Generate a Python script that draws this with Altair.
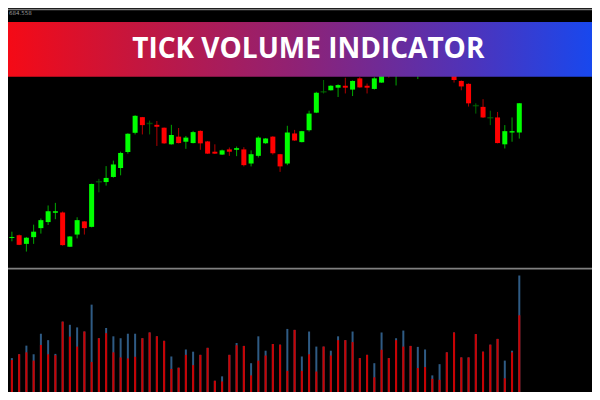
import altair as alt
import pandas as pd

# ---- data (price units, tick volumes) ----
opens = [60.5, 63.3, 54.3, 61.3, 70.7, 77, 86.7, 87, 51.3, 64,
         77.7, 72, 119, 118.7, 124, 133.3, 150, 170, 186.3, 179.7,
         178.3, 175.3, 158, 166, 160.7, 159.3, 172, 161, 150.3, 147.3,
         152.7, 152.3, 152.7, 138, 146, 159, 166, 147.7, 138, 169.3,
         160.3, 172.7, 191, 212.7, 214.3, 217, 219, 215, 226.7, 219,
         215.7, 222.3, 238, 234, 242, 236, 238, 245, 240, 247,
         242, 234, 224, 221, 198.3, 197, 185.7, 186, 158, 170.3, 170.3]
closes = [61.5, 53.3, 60.7, 67, 79, 88.3, 88.3, 53, 62, 79,
          70.7, 116.7, 119, 123, 137, 149, 169, 187.7, 178, 179.7,
          176.3, 159, 167.7, 159.3, 165, 170.7, 159, 148.3, 148.3, 151.7,
          150.3, 154, 136.3, 147.7, 165, 164, 148.7, 135, 170.3, 162,
          171.7, 190, 211.7, 212.7, 219, 219.7, 217, 224, 217.3, 217,
          226.7, 234, 230, 242, 236, 244, 246, 240, 248, 242,
          234, 225, 218.3, 200.7, 198.3, 186, 185.7, 159.3, 171.7, 171.7, 200.7]
highs = [67, 64, 61.5, 74.3, 80.7, 94.3, 97, 88, 62.5, 82,
         78, 117, 122, 135.3, 141, 150.3, 169.5, 188.3, 186.5, 182.7,
         182.3, 175.5, 178.3, 175, 166.7, 172, 172.5, 161.5, 158, 152.5,
         154.7, 155.7, 155, 151.7, 166.3, 164.5, 166.5, 148, 177.3, 173,
         172, 193, 212.7, 225, 219.5, 220.5, 227.3, 224.5, 228, 221.3,
         228, 237, 242, 245, 246, 250, 250, 248, 252, 250,
         245, 236, 224.5, 221.5, 200.7, 205, 193, 191.7, 178, 186, 201]
lows = [57, 53, 46.3, 54.3, 65, 74, 80, 52.5, 51, 60,
        64, 71.5, 108, 115, 123.3, 125.7, 148.3, 168.3, 168.3, 168.3,
        156.3, 158.5, 157.7, 159, 153.3, 159, 152.3, 148, 148, 147,
        146, 145.7, 135, 135, 144.3, 158.5, 147.3, 129.3, 136.3, 161.5,
        160, 171.3, 190.5, 211, 214, 207.3, 211, 208.3, 217, 211,
        215, 222, 227.5, 219.3, 232, 232, 226, 234, 236, 234,
        230, 222.3, 214.3, 197.3, 190, 185.5, 178, 159, 153.7, 160.7, 164]
total_volume = [353, 393, 483, 393, 607, 540, 397, 733, 700, 673,
                630, 910, 560, 667, 580, 560, 607, 607, 560, 620,
                580, 533, 370, 253, 443, 420, 387, 460, 117, 163,
                387, 510, 480, 300, 580, 430, 500, 493, 657, 647,
                370, 630, 473, 473, 430, 580, 540, 630, 353, 387,
                300, 620, 353, 560, 640, 480, 470, 443, 173, 290,
                413, 620, 360, 360, 603, 420, 493, 553, 327, 430, 1213]
red_volume = [333, 393, 413, 327, 490, 393, 383, 733, 577, 473,
              630, 313, 560, 613, 413, 360, 350, 367, 560, 620,
              580, 533, 240, 253, 387, 280, 387, 460, 117, 110,
              387, 487, 480, 173, 327, 380, 500, 493, 220, 647,
              220, 393, 213, 473, 380, 540, 540, 520, 353, 387,
              153, 440, 353, 540, 473, 480, 250, 260, 137, 127,
              413, 620, 360, 360, 603, 420, 493, 553, 143, 413, 800]
title_text = "TICK VOLUME INDICATOR"
price_label = "684.558"

# ---- table ----
df = pd.DataFrame({
    "i": list(range(len(opens))),
    "open": opens, "close": closes, "high": highs, "low": lows,
    "total": total_volume, "red": red_volume,
})
df["dir"] = ["doji" if c == o else ("up" if c > o else "down") for o, c in zip(opens, closes)]

W, H = 584, 384
sx, sy = W / 600, H / 400

xscale = alt.Scale(domain=[-0.537, 80.03], nice=False, zero=False, padding=0)
pscale = alt.Scale(domain=[-100, 300], nice=False, zero=False, padding=0)
vscale = alt.Scale(domain=[0, 4000], nice=False, zero=True, padding=0)

X = alt.X("i:Q", scale=xscale, axis=None)
base = alt.Chart(df)


def wick(d, col):
    return base.transform_filter(f"datum.dir == '{d}'").mark_rule(
        strokeWidth=1, color=col
    ).encode(x=X, y=alt.Y("low:Q", scale=pscale, axis=None), y2="high:Q")


wick_up = wick("up", "#00a800")
wick_down = wick("down", "#b00000")
wick_doji = wick("doji", "#006a00")

bodies = base.transform_filter("datum.dir != 'doji'").mark_bar(size=5).encode(
    x=X,
    y=alt.Y("open:Q", scale=pscale, axis=None),
    y2="close:Q",
    color=alt.condition("datum.dir == 'up'", alt.value("#00ff00"), alt.value("#ff0000")),
)
dojis = base.transform_filter("datum.dir == 'doji'").mark_tick(
    orient="horizontal", size=6, thickness=1.5, color="#006a00"
).encode(x=X, y=alt.Y("open:Q", scale=pscale, axis=None))

vol_blue = base.mark_bar(size=2, color="#2f5b84").encode(
    x=X, y=alt.Y("total:Q", scale=vscale, axis=None)
)
vol_red = base.mark_bar(size=2, color="#cc0000").encode(
    x=X, y=alt.Y("red:Q", scale=vscale, axis=None)
)

one = alt.Data(values=[{}])

banner = alt.Chart(one).mark_rect(
    color=alt.Gradient(
        gradient="linear",
        stops=[
            alt.GradientStop(color="#f50a16", offset=0),
            alt.GradientStop(color="#c4163f", offset=0.22),
            alt.GradientStop(color="#8e2276", offset=0.5),
            alt.GradientStop(color="#4c34bc", offset=0.8),
            alt.GradientStop(color="#1848ee", offset=1),
        ],
        x1=0, x2=1, y1=0, y2=0,
    )
).encode(
    x=alt.value(0), x2=alt.value(W),
    y=alt.value(14.5 * sy), y2=alt.value(71.7 * sy),
)

title = alt.Chart(one).mark_text(
    text=title_text, font="Open Sans", fontWeight="bold", fontSize=28,
    color="white", align="center", baseline="alphabetic",
).encode(x=alt.value(308.5 * sx), y=alt.value(51.7 * sy))

label = alt.Chart(one).mark_text(
    text=price_label, font="DejaVu Sans", fontSize=5.5, color="#9a9a9a",
    align="left", baseline="middle",
).encode(x=alt.value(1), y=alt.value(5 * sy))

top_line = alt.Chart(one).mark_rule(color="#7a7a7a", strokeWidth=1.5).encode(
    x=alt.value(0), x2=alt.value(W), y=alt.value(1.5 * sy)
)
divider = alt.Chart(one).mark_rule(color="#808080", strokeWidth=1.8).encode(
    x=alt.value(0), x2=alt.value(W), y=alt.value(271.5 * sy)
)

chart = alt.layer(
    wick_up, wick_down, wick_doji, bodies, dojis,
    vol_blue, vol_red,
    banner, title, label, top_line, divider,
).resolve_scale(y="independent").properties(
    width=W, height=H, padding=0, background="black", autosize="none"
).configure_view(stroke=None)

chart.save("out.html", embed_options={"renderer": "svg", "actions": False})
